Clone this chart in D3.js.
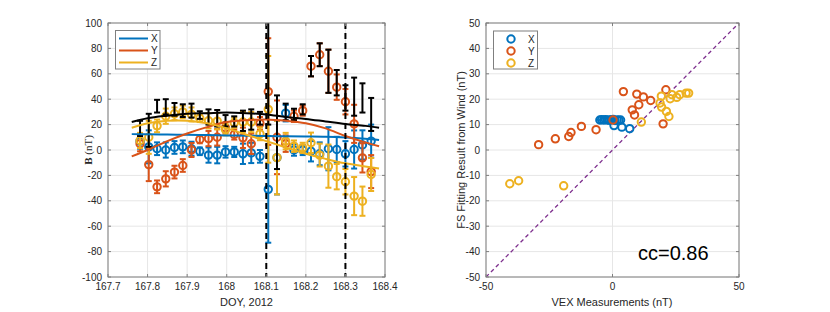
<!DOCTYPE html>
<html>
<head>
<meta charset="utf-8">
<script src="https://cdn.jsdelivr.net/npm/d3@7"></script>
<style>
  body { margin: 0; background: #fff; }
  text { font-family: "Liberation Sans", Arial, sans-serif; fill: #262626; }
</style>
</head>
<body>
<div id="chart"></div>
<script>
// measurement times (DOY 2012)
var doy = [167.781, 167.803, 167.824, 167.846, 167.868, 167.889, 167.911, 167.932, 167.954, 167.976,
           167.997, 168.019, 168.041, 168.062, 168.084, 168.105, 168.127, 168.149, 168.170, 168.192,
           168.213, 168.235, 168.257, 168.278, 168.300, 168.322, 168.343, 168.365];
// VEX field components (nT)
var bx = [7, 2.5, 1, 0, 2, 2.5, 1, -1, -4, -4, -1.5, -1.5, -3, -2.3, -5, -31, -6, 29, 0, 0, -1, -3, 1, 0.4, -3, 0.4, 4, 7];
var by = [5, -11.5, -29, -22.7, -17.4, -12.2, 0, 8.3, 9, 10, 17.5, 12.2, 9.6, 4.9, 21, 46, 10, 5, 26.6, 31, 66, 75, 62, 49.5, 38, 20.6, -6.2, -17];
var bz = [7.5, 10, 19, 26.6, 28.5, 30, 28, 25, 23, 22.7, 16, 21.4, 22, 22, 12.7, 32, -6, 7, 3, 1.7, 5.7, -4, -12.7, -21, -25, -36.3, -40.3, -19.3];
var bt = [17, 15.5, 34.5, 34, 32, 31, 31, 27.5, 26, 25, 23, 22.5, 23, 24, 25, 62, 14, 30, 28, 32, 66, 75, 62, 53, 41, 42, 41, 28];
var berr = [6, 13, 5, 6, 5, 5, 5.5, 3, 6, 6.5, 4.5, 4, 8, 8, 5, 42, 29, 6.5, 4.5, 4, 8, 9, 17, 10, 10, 15, 11.5, 13];

// FS fitting curves
var fitT = [167.76, 167.8, 167.85, 167.9, 167.95, 168.0, 168.05, 168.1, 168.15, 168.2, 168.25, 168.3, 168.35, 168.385];
var fitX = [12.5, 12.4, 12.2, 12, 11.8, 11.5, 11.3, 11, 10.8, 10.6, 10.4, 9.8, 8.8, 7.8];
var fitY = [-5, 0, 7, 13, 18, 22, 23.5, 24, 23, 21, 17, 11, 6, 3];
var fitZ = [17.5, 21, 23, 23, 21, 17, 12, 7, 2, -3, -7, -10.5, -13, -14.6];
var fitB = [22, 25, 27, 28.5, 29, 29.5, 29, 28, 26, 24.5, 22.5, 20.5, 19, 17.5];

// boundary crossings
var crossings = [168.1, 168.3];

// scatter: VEX measurement vs FS fit
var scXx = [-5, -4.3, -3.5, -2.8, -2, -1.3, -0.5, 0.3, 1, 1.8, 2.5, 3.2, 0.6, 3.7, 6.8];
var scXy = [11.8, 11.9, 11.8, 11.9, 11.8, 11.7, 11.9, 12, 11.6, 11.8, 11.7, 11.8, 9.6, 9, 8.4];
var scYx = [-29.2, -22.6, -17.3, -16.4, -12.3, -6.5, 0.2, 4.3, 9.6, 12.2, 15.1, 10.4, 7.8, 8.7, 21.1, 20];
var scYy = [2.1, 4.4, 5.3, 6.9, 9.3, 8, 11.8, 23, 22, 20.9, 19.5, 17.8, 15.8, 13.8, 23.7, 10.3];
var scZx = [-40.6, -37.1, -19.3, 11.4, 19.3, 18.8, 19.4, 21.3, 22.3, 22.8, 23.5, 25.4, 26.6, 29.1, 30.1];
var scZy = [-13.3, -12.1, -14.1, 11, 21.2, 18.5, 16.9, 15.2, 13.2, 20.2, 21.8, 20.7, 21.8, 22.4, 22.4];

var leftXTicks = [167.7, 167.8, 167.9, 168, 168.1, 168.2, 168.3, 168.4];
var leftYTicks = [-100, -80, -60, -40, -20, 0, 20, 40, 60, 80, 100];
var rightXTicks = [-50, 0, 50];
var rightYTicks = [-50, -40, -30, -20, -10, 0, 10, 20, 30, 40, 50];

var colors = { X: "#0072BD", Y: "#D95319", Z: "#EDB120", B: "#000000" };
var gridColor = "#e6e6e6";
var boxColor = "#7f7f7f";

var svg = d3.select("#chart").append("svg")
    .attr("width", 830)
    .attr("height", 312);

// ---------- left panel ----------
var x1 = d3.scaleLinear().domain([167.7, 168.4]).range([108, 385]);
var y1 = d3.scaleLinear().domain([-100, 100]).range([277, 23]);

var g1 = svg.append("g");

function drawFrame(g, x, y, xt, yt) {
    var x0 = x.range()[0], xN = x.range()[1];
    var yB = y.range()[0], yT = y.range()[1];
    g.selectAll(".vgrid").data(xt).enter().append("line")
        .attr("x1", d => x(d)).attr("x2", d => x(d))
        .attr("y1", yT).attr("y2", yB)
        .attr("stroke", gridColor).attr("stroke-width", 1);
    g.selectAll(".hgrid").data(yt).enter().append("line")
        .attr("x1", x0).attr("x2", xN)
        .attr("y1", d => y(d)).attr("y2", d => y(d))
        .attr("stroke", gridColor).attr("stroke-width", 1);
}

function drawAxes(g, x, y, xt, yt, xfmt, yfmt) {
    var x0 = x.range()[0], xN = x.range()[1];
    var yB = y.range()[0], yT = y.range()[1];
    var tl = 3;
    // inner ticks on all sides
    xt.forEach(function(d) {
        g.append("line").attr("x1", x(d)).attr("x2", x(d)).attr("y1", yB).attr("y2", yB - tl)
            .attr("stroke", boxColor);
        g.append("line").attr("x1", x(d)).attr("x2", x(d)).attr("y1", yT).attr("y2", yT + tl)
            .attr("stroke", boxColor);
        g.append("text").attr("x", x(d)).attr("y", yB + 13)
            .attr("text-anchor", "middle").style("font-size", "10px").text(xfmt(d));
    });
    yt.forEach(function(d) {
        g.append("line").attr("x1", x0).attr("x2", x0 + tl).attr("y1", y(d)).attr("y2", y(d))
            .attr("stroke", boxColor);
        g.append("line").attr("x1", xN).attr("x2", xN - tl).attr("y1", y(d)).attr("y2", y(d))
            .attr("stroke", boxColor);
        g.append("text").attr("x", x0 - 6).attr("y", y(d)).attr("dy", "0.35em")
            .attr("text-anchor", "end").style("font-size", "10px").text(yfmt(d));
    });
    g.append("rect").attr("x", x0).attr("y", yT)
        .attr("width", xN - x0).attr("height", yB - yT)
        .attr("fill", "none").attr("stroke", boxColor).attr("stroke-width", 1);
}

drawFrame(g1, x1, y1, leftXTicks, leftYTicks);

g1.append("clipPath").attr("id", "clipL").append("rect")
    .attr("x", 108).attr("y", 23).attr("width", 277).attr("height", 254);

var plot1 = g1.append("g").attr("clip-path", "url(#clipL)");

function errorBars(vals, color, withMarker) {
    var grp = plot1.append("g");
    var rows = doy.map((t, i) => ({ t: t, v: vals[i], e: berr[i] }));
    rows.forEach(function(d) {
        var cx = x1(d.t);
        grp.append("line").attr("x1", cx).attr("x2", cx)
            .attr("y1", y1(d.v - d.e)).attr("y2", y1(d.v + d.e))
            .attr("stroke", color).attr("stroke-width", 2);
        [d.v - d.e, d.v + d.e].forEach(function(c) {
            grp.append("line").attr("x1", cx - 3).attr("x2", cx + 3)
                .attr("y1", y1(c)).attr("y2", y1(c))
                .attr("stroke", color).attr("stroke-width", 2);
        });
        if (withMarker) {
            grp.append("circle").attr("cx", cx).attr("cy", y1(d.v)).attr("r", 3.7)
                .attr("fill", "none").attr("stroke", color).attr("stroke-width", 2);
        }
    });
}

errorBars(bx, colors.X, true);
errorBars(by, colors.Y, true);
errorBars(bz, colors.Z, true);
errorBars(bt, colors.B, false);

var fitLine = d3.line()
    .x(d => x1(d[0]))
    .y(d => y1(d[1]))
    .curve(d3.curveCatmullRom);

[[fitX, colors.X], [fitY, colors.Y], [fitZ, colors.Z], [fitB, colors.B]].forEach(function(s) {
    plot1.append("path")
        .datum(fitT.map((t, i) => [t, s[0][i]]))
        .attr("d", fitLine)
        .attr("fill", "none")
        .attr("stroke", s[1])
        .attr("stroke-width", 2);
});

plot1.selectAll(".cross").data(crossings).enter().append("line")
    .attr("x1", d => x1(d)).attr("x2", d => x1(d))
    .attr("y1", 23).attr("y2", 277)
    .attr("stroke", "#000").attr("stroke-width", 2)
    .attr("stroke-dasharray", "6,4");

drawAxes(g1, x1, y1, leftXTicks, leftYTicks,
    d => (Math.abs(d - 168) < 1e-9 ? "168" : d3.format(".1f")(d)),
    d => d);

// legend left
var leg1 = g1.append("g");
leg1.append("rect").attr("x", 115.5).attr("y", 30.5).attr("width", 44.5).attr("height", 38.5)
    .attr("fill", "#fff").attr("stroke", "#7f7f7f");
[["X", colors.X], ["Y", colors.Y], ["Z", colors.Z]].forEach(function(d, i) {
    var yy = 38.5 + i * 12;
    leg1.append("line").attr("x1", 119).attr("x2", 148).attr("y1", yy).attr("y2", yy)
        .attr("stroke", d[1]).attr("stroke-width", 2);
    leg1.append("text").attr("x", 151).attr("y", yy).attr("dy", "0.35em")
        .style("font-size", "10px").text(d[0]);
});

// axis titles left
g1.append("text").attr("x", 246.5).attr("y", 306).attr("text-anchor", "middle")
    .style("font-size", "11px").text("DOY, 2012");
var yl = g1.append("text")
    .attr("transform", "translate(92,150) rotate(-90)")
    .attr("text-anchor", "middle")
    .style("font-size", "11px")
    .style("font-family", "'Liberation Serif', 'Times New Roman', serif");
yl.append("tspan").style("font-weight", "bold").style("font-family", "'Liberation Serif', serif").text("B");
yl.append("tspan").style("font-family", "'Liberation Serif', serif").text(" (nT)");

// ---------- right panel ----------
var x2 = d3.scaleLinear().domain([-50, 50]).range([486, 739]);
var y2 = d3.scaleLinear().domain([-50, 50]).range([277, 23]);
var g2 = svg.append("g");

drawFrame(g2, x2, y2, rightXTicks, rightYTicks);

g2.append("clipPath").attr("id", "clipR").append("rect")
    .attr("x", 486).attr("y", 23).attr("width", 253).attr("height", 254);
var plot2 = g2.append("g").attr("clip-path", "url(#clipR)");

plot2.append("line")
    .attr("x1", x2(-50)).attr("y1", y2(-50)).attr("x2", x2(50)).attr("y2", y2(50))
    .attr("stroke", "#7E2F8E").attr("stroke-width", 1.3)
    .attr("stroke-dasharray", "4,3");

[[scXx, scXy, colors.X], [scYx, scYy, colors.Y], [scZx, scZy, colors.Z]].forEach(function(s) {
    plot2.append("g").selectAll("circle")
        .data(s[0].map((v, i) => [v, s[1][i]]))
        .enter()
        .append("circle")
        .attr("cx", d => x2(d[0]))
        .attr("cy", d => y2(d[1]))
        .attr("r", 3.7)
        .attr("fill", "none")
        .attr("stroke", s[2])
        .attr("stroke-width", 2);
});

drawAxes(g2, x2, y2, rightXTicks, rightYTicks, d => d, d => d);

g2.append("text").attr("x", 638).attr("y", 260)
    .style("font-size", "20px").style("fill", "#000").text("cc=0.86");

// legend right
var leg2 = g2.append("g");
leg2.append("rect").attr("x", 493.5).attr("y", 31).attr("width", 44).attr("height", 38)
    .attr("fill", "#fff").attr("stroke", "#7f7f7f");
[["X", colors.X], ["Y", colors.Y], ["Z", colors.Z]].forEach(function(d, i) {
    var yy = 39 + i * 12;
    leg2.append("circle").attr("cx", 511).attr("cy", yy).attr("r", 3.7)
        .attr("fill", "none").attr("stroke", d[1]).attr("stroke-width", 2);
    leg2.append("text").attr("x", 528).attr("y", yy).attr("dy", "0.35em")
        .style("font-size", "10px").text(d[0]);
});

g2.append("text").attr("x", 612).attr("y", 306).attr("text-anchor", "middle")
    .style("font-size", "11px").text("VEX Measurements (nT)");
g2.append("text")
    .attr("transform", "translate(465,150) rotate(-90)")
    .attr("text-anchor", "middle")
    .style("font-size", "11px")
    .text("FS Fitting Result from Wind (nT)");
</script>
</body>
</html>
